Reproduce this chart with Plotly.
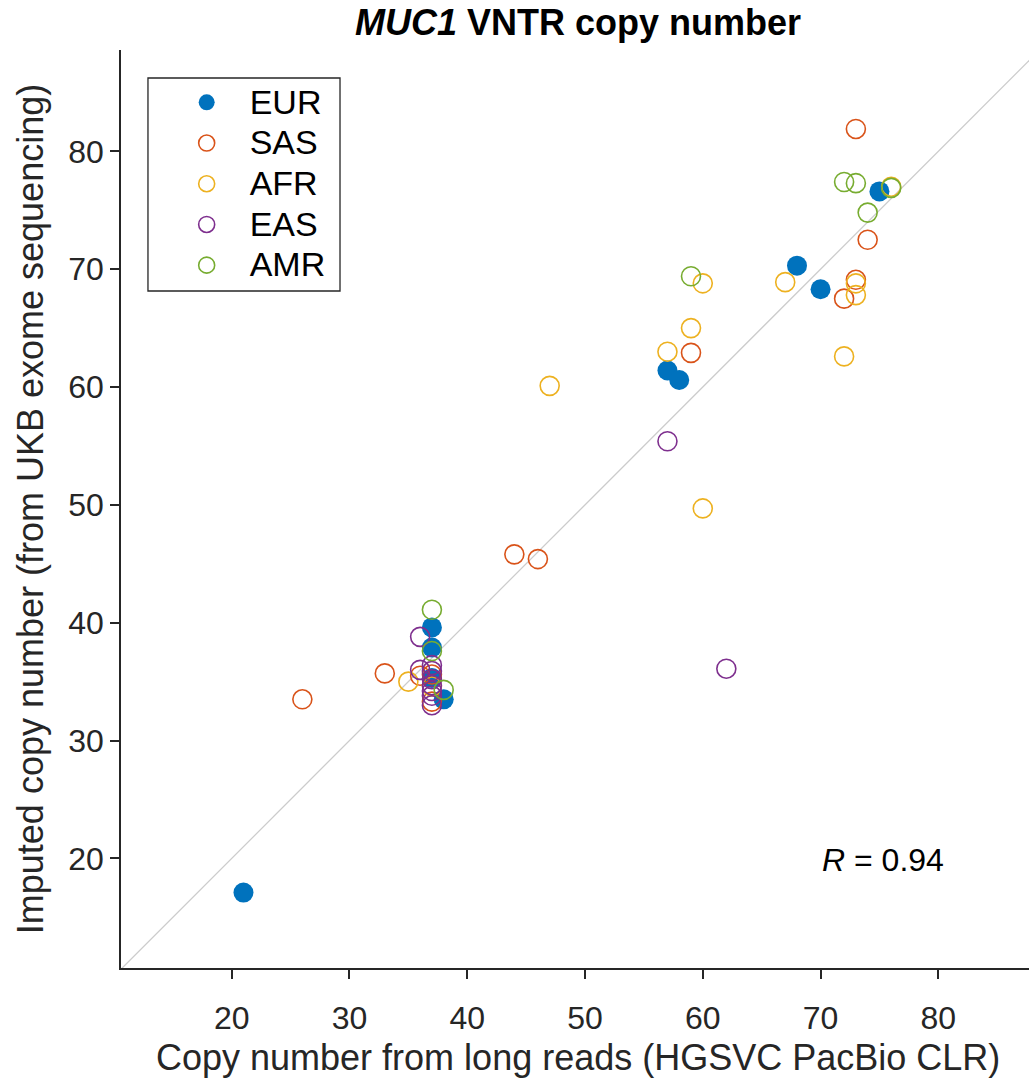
import plotly.graph_objects as go

groups = ["EUR", "SAS", "AFR", "EAS", "AMR"]
colors = ["#0072BD", "#D95319", "#EDB120", "#7E2F8E", "#77AC30"]

eur_x = [21, 37, 37, 37, 38, 57, 58, 68, 70, 75]
eur_y = [17.1, 39.6, 37.9, 35.3, 33.5, 61.4, 60.6, 70.3, 68.3, 76.6]

sas_x = [26, 33, 36, 37, 37, 44, 46, 59, 72, 73, 73, 74]
sas_y = [33.5, 35.7, 35.5, 35.6, 33.3, 45.8, 45.4, 62.9, 67.5, 69.1, 81.9, 72.5]

afr_x = [35, 37, 47, 57, 59, 60, 60, 67, 72, 73, 73, 76]
afr_y = [35.0, 34.6, 60.1, 63.0, 65.0, 68.8, 49.7, 68.9, 62.6, 68.8, 67.8, 77.0]

eas_x = [36, 36, 37, 37, 37, 37, 37, 37, 37, 57, 62]
eas_y = [38.8, 36.0, 36.4, 35.9, 35.2, 34.7, 34.2, 33.8, 33.0, 55.4, 36.1]

amr_x = [37, 37, 38, 59, 72, 73, 74, 76]
amr_y = [41.1, 37.6, 34.3, 69.4, 77.4, 77.3, 74.8, 76.9]

series_x = [eur_x, sas_x, afr_x, eas_x, amr_x]
series_y = [eur_y, sas_y, afr_y, eas_y, amr_y]

x_ticks = [20, 30, 40, 50, 60, 70, 80]
y_ticks = [20, 30, 40, 50, 60, 70, 80]
identity = [0, 100]

FONT = "Liberation Sans, Arial, Helvetica, sans-serif"
AX = "#262626"

fig = go.Figure()
fig.add_trace(go.Scatter(x=identity, y=identity, mode="lines",
                         line=dict(color="#CCCCCC", width=1.3),
                         showlegend=False, hoverinfo="skip"))
for name, col, xs, ys in zip(groups, colors, series_x, series_y):
    filled = name == "EUR"
    fig.add_trace(go.Scatter(
        x=xs, y=ys, mode="markers",
        name="<span style='font-size:34px'>%s</span>" % name,
        marker=dict(size=20 if filled else 19,
                    color=col if filled else "rgba(0,0,0,0)",
                    line=dict(color=col, width=0 if filled else 1.6)),
    ))

fig.add_annotation(x=75.3, y=19.9, text="<i>R</i> = 0.94", showarrow=False,
                   font=dict(family=FONT, size=32, color="black"))

# title and axis titles
fig.add_annotation(xref="paper", yref="paper", x=0.503, y=1.0305,
                   text="<b><i>MUC1</i> VNTR copy number</b>", showarrow=False,
                   xanchor="center", yanchor="middle",
                   font=dict(family=FONT, size=36, color="black"))
fig.add_annotation(xref="paper", yref="paper", x=0.503, y=-0.098,
                   text="Copy number from long reads (HGSVC PacBio CLR)", showarrow=False,
                   xanchor="center", yanchor="middle",
                   font=dict(family=FONT, size=36, color=AX))
fig.add_annotation(xref="paper", yref="paper", x=-0.1, y=0.5, textangle=-90,
                   text="Imputed copy number (from UKB exome sequencing)", showarrow=False,
                   xanchor="center", yanchor="middle",
                   font=dict(family=FONT, size=36, color=AX))

# legend box
fig.add_shape(type="rect", xref="paper", yref="paper",
              x0=0.0297, x1=0.2412, y0=0.7375, y1=0.9695,
              line=dict(color=AX, width=1.3), fillcolor="white", layer="above")

axis_common = dict(showgrid=False, zeroline=False, showline=True, linecolor=AX,
                   linewidth=1.5, ticks="outside", ticklen=9, tickwidth=1.5,
                   tickcolor=AX, tickfont=dict(family=FONT, size=32, color=AX),
                   mirror=False, automargin=False)

fig.update_layout(
    width=1029, height=1082,
    margin=dict(l=121, r=0, t=50, b=114),
    paper_bgcolor="white", plot_bgcolor="white",
    xaxis=dict(range=[10.6, 87.7], tickvals=x_ticks, ticklabelstandoff=12,
               **axis_common),
    yaxis=dict(range=[10.7, 88.6], tickvals=y_ticks, **axis_common),
    legend=dict(x=0.047, y=0.9706, xanchor="left", yanchor="top",
                bgcolor="rgba(0,0,0,0)", borderwidth=0,
                font=dict(family=FONT, size=29, color="black"),
                itemsizing="trace", itemwidth=76),
    showlegend=True,
)

fig.write_html("out.html", config={"displayModeBar": False},
               post_script="document.body.style.margin='0px';document.body.style.overflow='hidden';")
